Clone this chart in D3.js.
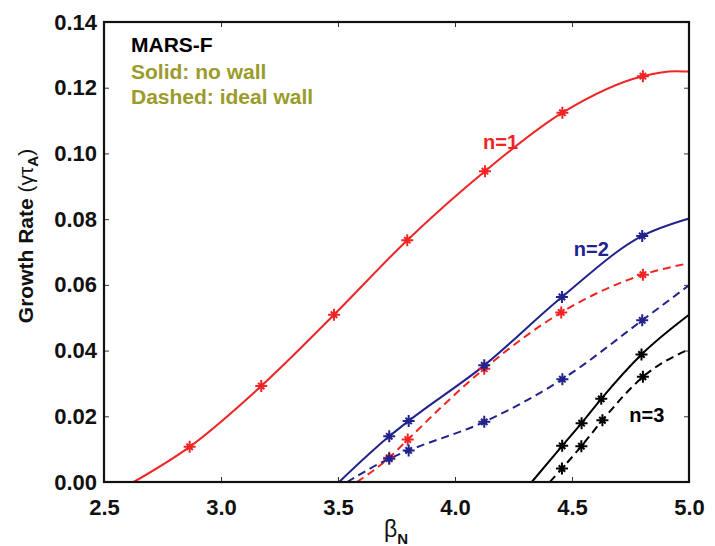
<!DOCTYPE html>
<html>
<head>
<meta charset="utf-8">
<script src="https://cdn.jsdelivr.net/npm/d3@7"></script>
<style>
  html, body { margin: 0; padding: 0; background: #fff; }
  svg { display: block; }
  text { font-family: "Liberation Sans", Arial, Helvetica, sans-serif; }
</style>
</head>
<body>
<svg id="chart" width="715" height="546"></svg>
<script>
// Axis ticks
const xTicks = [2.5, 3.0, 3.5, 4.0, 4.5, 5.0];
const yTicks = [0.00, 0.02, 0.04, 0.06, 0.08, 0.10, 0.12, 0.14];

// n=1, no wall (solid red)
const n1NoWallOnset = 2.627;
const n1NoWallBeta = [2.866, 3.172, 3.483, 3.796, 4.128, 4.459, 4.803];
const n1NoWallRate = [0.0107, 0.0292, 0.0509, 0.0736, 0.0946, 0.1124, 0.1235];
const n1NoWallEdgeBeta = [4.94, 5.0];
const n1NoWallEdgeRate = [0.1250, 0.1249];

// n=1, ideal wall (dashed red)
const n1WallOnset = 3.581;
const n1WallBeta = [3.719, 3.798, 4.125, 4.454, 4.803];
const n1WallRate = [0.0074, 0.0129, 0.0345, 0.0516, 0.0631];
const n1WallEdgeBeta = [5.0];
const n1WallEdgeRate = [0.0666];

// n=2, no wall (solid blue)
const n2NoWallOnset = 3.505;
const n2NoWallBeta = [3.719, 3.802, 4.125, 4.457, 4.800];
const n2NoWallRate = [0.0139, 0.0186, 0.0355, 0.0563, 0.0749];
const n2NoWallEdgeBeta = [5.0];
const n2NoWallEdgeRate = [0.0802];

// n=2, ideal wall (dashed blue)
const n2WallOnset = 3.539;
const n2WallBeta = [3.719, 3.802, 4.125, 4.459, 4.800];
const n2WallRate = [0.0071, 0.0096, 0.0183, 0.0313, 0.0492];
const n2WallEdgeBeta = [5.0];
const n2WallEdgeRate = [0.0599];

// n=3, no wall (solid black)
const n3NoWallOnset = 4.328;
const n3NoWallBeta = [4.458, 4.541, 4.625, 4.797];
const n3NoWallRate = [0.0110, 0.0179, 0.0253, 0.0388];
const n3NoWallEdgeBeta = [5.0];
const n3NoWallEdgeRate = [0.0509];

// n=3, ideal wall (dashed black)
const n3WallOnset = 4.405;
const n3WallBeta = [4.457, 4.540, 4.630, 4.803];
const n3WallRate = [0.0041, 0.0109, 0.0188, 0.0320];
const n3WallEdgeBeta = [5.0];
const n3WallEdgeRate = [0.0404];

const RED = "#f02424", BLUE = "#22228c", BLACK = "#000000", OLIVE = "#9b9b2b";

const series = [
  { onset: n1NoWallOnset, beta: n1NoWallBeta, rate: n1NoWallRate, eb: n1NoWallEdgeBeta, er: n1NoWallEdgeRate, color: RED, dashed: false },
  { onset: n1WallOnset, beta: n1WallBeta, rate: n1WallRate, eb: n1WallEdgeBeta, er: n1WallEdgeRate, color: RED, dashed: true },
  { onset: n2WallOnset, beta: n2WallBeta, rate: n2WallRate, eb: n2WallEdgeBeta, er: n2WallEdgeRate, color: BLUE, dashed: true },
  { onset: n2NoWallOnset, beta: n2NoWallBeta, rate: n2NoWallRate, eb: n2NoWallEdgeBeta, er: n2NoWallEdgeRate, color: BLUE, dashed: false },
  { onset: n3WallOnset, beta: n3WallBeta, rate: n3WallRate, eb: n3WallEdgeBeta, er: n3WallEdgeRate, color: BLACK, dashed: true },
  { onset: n3NoWallOnset, beta: n3NoWallBeta, rate: n3NoWallRate, eb: n3NoWallEdgeBeta, er: n3NoWallEdgeRate, color: BLACK, dashed: false }
];

const modeLabels = [
  { text: "n=1", beta: 4.12, rate: 0.1012, color: RED },
  { text: "n=2", beta: 4.508, rate: 0.0688, color: BLUE },
  { text: "n=3", beta: 4.745, rate: 0.0184, color: BLACK }
];

const legendLines = [
  { text: "MARS-F", color: BLACK },
  { text: "Solid: no wall", color: OLIVE },
  { text: "Dashed: ideal wall", color: OLIVE }
];

const svg = d3.select("#chart");
const L = 104, R = 689, T = 22, B = 482;

const x = d3.scaleLinear().domain([2.5, 5.0]).range([L, R]);
const y = d3.scaleLinear().domain([0, 0.14]).range([B, T]);

// Inward ticks on all four sides
const tickFont = g => g.selectAll("text")
  .attr("font-size", 22).attr("font-weight", "bold").attr("fill", "#111");

svg.append("g").attr("transform", `translate(0,${B})`)
  .call(d3.axisBottom(x).tickValues(xTicks).tickFormat(d3.format(".1f"))
    .tickSizeInner(-5).tickSizeOuter(0).tickPadding(17))
  .call(g => g.select(".domain").remove())
  .call(tickFont);

svg.append("g").attr("transform", `translate(${L},0)`)
  .call(d3.axisLeft(y).tickValues(yTicks).tickFormat(d3.format(".2f"))
    .tickSizeInner(-5).tickSizeOuter(0).tickPadding(7))
  .call(g => g.select(".domain").remove())
  .call(tickFont);

svg.append("g").attr("transform", `translate(0,${T})`)
  .call(d3.axisTop(x).tickValues(xTicks).tickFormat("").tickSizeInner(-5).tickSizeOuter(0))
  .call(g => g.select(".domain").remove());

svg.append("g").attr("transform", `translate(${R},0)`)
  .call(d3.axisRight(y).tickValues(yTicks).tickFormat("").tickSizeInner(-5).tickSizeOuter(0))
  .call(g => g.select(".domain").remove());

svg.selectAll(".tick line").attr("stroke", "#333").attr("stroke-width", 1);

// Curves
const line = d3.line().x(d => x(d[0])).y(d => y(d[1])).curve(d3.curveMonotoneX);
const plot = svg.append("g");

series.forEach(s => {
  const pts = [[s.onset, 0]]
    .concat(s.beta.map((b, i) => [b, s.rate[i]]))
    .concat(s.eb.map((b, i) => [b, s.er[i]]));
  plot.append("path")
    .attr("d", line(pts))
    .attr("fill", "none")
    .attr("stroke", s.color)
    .attr("stroke-width", 2)
    .attr("stroke-dasharray", s.dashed ? "8,5" : null);
});

// Asterisk markers at computed points
const star = "M-6,0H6M0,-6V6M-3.2,-3.2L3.2,3.2M-3.2,3.2L3.2,-3.2";
series.forEach(s => {
  plot.selectAll(null)
    .data(s.beta.map((b, i) => [b, s.rate[i]]))
    .join("path")
    .attr("transform", d => `translate(${x(d[0])},${y(d[1])})`)
    .attr("d", star)
    .attr("fill", "none")
    .attr("stroke", s.color)
    .attr("stroke-width", 2);
});

// Frame
svg.append("rect")
  .attr("x", L).attr("y", T).attr("width", R - L).attr("height", B - T)
  .attr("fill", "none").attr("stroke", "#111").attr("stroke-width", 2.2);

// Mode labels
svg.selectAll(".mode")
  .data(modeLabels)
  .join("text")
  .attr("class", "mode")
  .attr("x", d => x(d.beta))
  .attr("y", d => y(d.rate))
  .attr("font-size", 20)
  .attr("font-weight", "bold")
  .attr("fill", d => d.color)
  .text(d => d.text);

// Legend notes
const legendBase = [51.5, 78.5, 104];
svg.selectAll(".note")
  .data(legendLines)
  .join("text")
  .attr("class", "note")
  .attr("x", 131)
  .attr("y", (d, i) => legendBase[i])
  .attr("font-size", 21)
  .attr("font-weight", "bold")
  .attr("fill", d => d.color)
  .text(d => d.text);

// Y axis title
const yt = svg.append("text")
  .attr("transform", "translate(33,236) rotate(-90)")
  .attr("text-anchor", "middle")
  .attr("font-size", 21)
  .attr("fill", "#111");
yt.append("tspan").attr("font-weight", "bold").text("Growth Rate ");
yt.append("tspan").text("(\u03B3\u03C4");
yt.append("tspan").attr("font-weight", "bold").attr("font-size", 15).attr("dy", 5).text("A");
yt.append("tspan").attr("dy", -5).text(")");

// X axis title
const xt = svg.append("text")
  .attr("x", 396).attr("y", 537)
  .attr("text-anchor", "middle")
  .attr("font-size", 23)
  .attr("fill", "#111");
xt.append("tspan").text("\u03B2");
xt.append("tspan").attr("font-weight", "bold").attr("font-size", 15).attr("dy", 7).text("N");
</script>
</body>
</html>
